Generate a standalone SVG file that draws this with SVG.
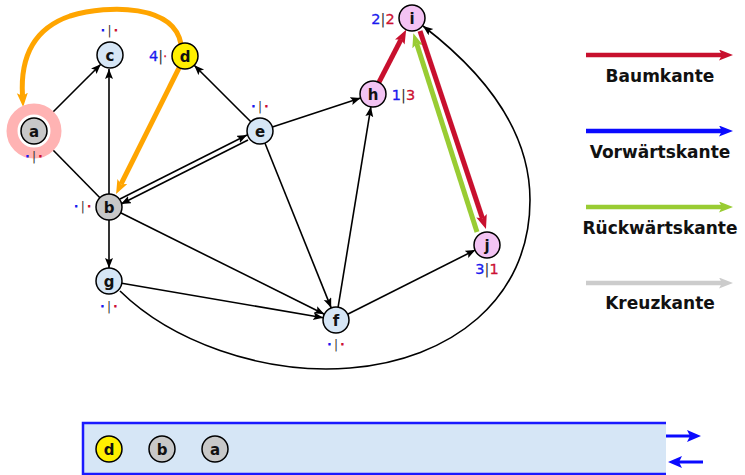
<svg xmlns="http://www.w3.org/2000/svg" width="745" height="475" viewBox="0 0 745 475">
<style>
.n{stroke:#000;stroke-width:1.5}
.lb{fill:#c8c8c8}.lc{fill:#d6e6f6}.ly{fill:#fff000}.lp{fill:#f3c3f3}
.t{font-family:"DejaVu Sans",sans-serif;font-weight:bold;font-size:15px;text-anchor:middle;fill:#111}
.e{fill:none;stroke:#000;stroke-width:1.6}
.s{font-family:"DejaVu Sans",sans-serif;font-size:12px;text-anchor:middle;letter-spacing:2.5px;fill:#333}
.num{font-family:"DejaVu Sans",sans-serif;font-size:14.5px;text-anchor:middle;fill:#333;stroke-width:0.3}
.bl{fill:#1a1aee;stroke:#1a1aee}.rd{fill:#cc1133;stroke:#cc1133}
.leg{font-family:"DejaVu Sans",sans-serif;font-weight:bold;font-size:17px;text-anchor:middle;fill:#111}
</style>
<defs>
<marker id="ab" markerUnits="userSpaceOnUse" markerWidth="12" markerHeight="10" refX="10" refY="4" orient="auto"><path d="M0,0 L10,4 L0,8 L2,4 z" fill="#000"/></marker>
<marker id="ar" markerUnits="userSpaceOnUse" markerWidth="16" markerHeight="13" refX="3" refY="5.5" orient="auto"><path d="M0,0 L14,5.5 L0,11 L3,5.5 z" fill="#c8102e"/></marker>
<marker id="ag" markerUnits="userSpaceOnUse" markerWidth="16" markerHeight="13" refX="3" refY="5.5" orient="auto"><path d="M0,0 L14,5.5 L0,11 L3,5.5 z" fill="#99cc33"/></marker>
<marker id="ao" markerUnits="userSpaceOnUse" markerWidth="16" markerHeight="13" refX="3" refY="5.5" orient="auto"><path d="M0,0 L14,5.5 L0,11 L3,5.5 z" fill="#ffa500"/></marker>
<marker id="abl" markerUnits="userSpaceOnUse" markerWidth="16" markerHeight="13" refX="3" refY="5.5" orient="auto"><path d="M0,0 L14,5.5 L0,11 L3,5.5 z" fill="#0a0aff"/></marker>
<marker id="agr" markerUnits="userSpaceOnUse" markerWidth="16" markerHeight="13" refX="3" refY="5.5" orient="auto"><path d="M0,0 L14,5.5 L0,11 L3,5.5 z" fill="#cccccc"/></marker>
<marker id="aq" markerUnits="userSpaceOnUse" markerWidth="16" markerHeight="13" refX="3" refY="6" orient="auto"><path d="M0,0 L14,6 L0,12 L3,6 z" fill="#0a0aff"/></marker>
</defs>

<g id="connectors">
<path class="e" d="M53,112 L100.8,64.2" marker-end="url(#ab)"/>
<path class="e" d="M99.9,197.7 L53,150"/>
<path class="e" d="M109,194 L109,69" marker-end="url(#ab)"/>
<path class="e" d="M250.8,121.8 L194.2,65.2" marker-end="url(#ab)"/>
<path class="e" d="M120,199 L247,135" marker-end="url(#ab)"/>
<path class="e" d="M248,140 L121,204" marker-end="url(#ab)"/>
<path class="e" d="M272.4,127 L360.6,98" marker-end="url(#ab)"/>
<path class="e" d="M264.9,143 L331.2,307.9" marker-end="url(#ab)"/>
<path class="e" d="M109,220 L109,268" marker-end="url(#ab)"/>
<path class="e" d="M120.6,212.8 L324.4,314.2" marker-end="url(#ab)"/>
<path class="e" d="M121.8,283.2 L323.2,317.8" marker-end="url(#ab)"/>
<path class="e" d="M338.1,307.2 L370.9,106.8" marker-end="url(#ab)"/>
<path class="e" d="M347.6,314.2 L475.4,249.9" marker-end="url(#ab)"/>
<path class="e" d="M120,291 C170,340 260,375 350,368 C450,360 530,300 530,200 C530,120 470,62 423,26" marker-end="url(#ab)"/>
<path fill="none" stroke="#ffa500" stroke-width="5" d="M181,44 C174,5 110,4 70,16 C35,28 20,55 22.5,96" marker-end="url(#ao)"/>
<path fill="none" stroke="#ffa500" stroke-width="5" d="M179.2,67.6 L121,184.2" marker-end="url(#ao)"/>
<path fill="none" stroke="#c8102e" stroke-width="5" d="M378.9,82.4 L401.1,39.4" marker-end="url(#ar)"/>
<path fill="none" stroke="#99cc33" stroke-width="5" d="M477,232 L416.7,43.8" marker-end="url(#ag)"/>
<path fill="none" stroke="#c8102e" stroke-width="5" d="M420,31 L482.5,218.6" marker-end="url(#ar)"/>
</g>

<g id="node-a">
<circle cx="34" cy="131" r="22" fill="none" stroke="#ffb3b3" stroke-width="11"/>
<circle class="n lb" cx="34" cy="131" r="13"/>
<text class="t" x="34" y="136.5">a</text>
<text class="s" x="35.2" y="160.5"><tspan class="bl">·</tspan>|<tspan class="rd">·</tspan></text>
</g>
<g id="node-b">
<circle class="n lb" cx="109" cy="207" r="13"/>
<text class="t" x="109" y="212.5">b</text>
<text class="s" x="83.9" y="210.5"><tspan class="bl">·</tspan>|<tspan class="rd">·</tspan></text>
</g>
<g id="node-c">
<circle class="n lc" cx="110" cy="55" r="13"/>
<text class="t" x="110" y="60.5">c</text>
<text class="s" x="110.7" y="34.5"><tspan class="bl">·</tspan>|<tspan class="rd">·</tspan></text>
</g>
<g id="node-d">
<circle class="n ly" cx="185" cy="56" r="13"/>
<text class="t" x="185" y="61.5">d</text>
<text class="num" x="158" y="61"><tspan class="bl">4</tspan>|<tspan class="rd" font-size="12">·</tspan></text>
</g>
<g id="node-e">
<circle class="n lc" cx="260" cy="131" r="13"/>
<text class="t" x="260" y="136.5">e</text>
<text class="s" x="261.2" y="111"><tspan class="bl">·</tspan>|<tspan class="rd">·</tspan></text>
</g>
<g id="node-f">
<circle class="n lc" cx="336" cy="320" r="13"/>
<text class="t" x="336" y="325.5">f</text>
<text class="s" x="337.2" y="349"><tspan class="bl">·</tspan>|<tspan class="rd">·</tspan></text>
</g>
<g id="node-g">
<circle class="n lc" cx="109" cy="281" r="13"/>
<text class="t" x="109" y="286.5">g</text>
<text class="s" x="110.2" y="311"><tspan class="bl">·</tspan>|<tspan class="rd">·</tspan></text>
</g>
<g id="node-h">
<circle class="n lp" cx="373" cy="94" r="13"/>
<text class="t" x="373" y="99.5">h</text>
<text class="num" x="403.5" y="100"><tspan class="bl">1</tspan>|<tspan class="rd">3</tspan></text>
</g>
<g id="node-i">
<circle class="n lp" cx="412" cy="18" r="13"/>
<text class="t" x="412" y="23.5">i</text>
<text class="num" x="383" y="23.5"><tspan class="bl">2</tspan>|<tspan class="rd">2</tspan></text>
</g>
<g id="node-j">
<circle class="n lp" cx="487" cy="245" r="13"/>
<text class="t" x="487" y="250.5">j</text>
<text class="num" x="487" y="274"><tspan class="bl">3</tspan>|<tspan class="rd">1</tspan></text>
</g>

<g id="legend">
<path fill="none" stroke="#c8102e" stroke-width="4.5" d="M586,55 L722,55" marker-end="url(#ar)"/>
<text class="leg" x="660" y="82">Baumkante</text>
<path fill="none" stroke="#0a0aff" stroke-width="4.5" d="M586,131 L722,131" marker-end="url(#abl)"/>
<text class="leg" x="660" y="158">Vorwärtskante</text>
<path fill="none" stroke="#99cc33" stroke-width="4.5" d="M586,207 L722,207" marker-end="url(#ag)"/>
<text class="leg" x="660" y="234">Rückwärtskante</text>
<path fill="none" stroke="#cccccc" stroke-width="4.5" d="M586,283 L722,283" marker-end="url(#agr)"/>
<text class="leg" x="660" y="309">Kreuzkante</text>
</g>

<g id="queue">
<rect x="83" y="423" width="583" height="52" fill="#d6e6f6"/>
<path d="M666,423 H83 V474 H666" fill="none" stroke="#1a1aff" stroke-width="2.5"/>
<path fill="none" stroke="#0a0aff" stroke-width="3" d="M666,436 L690,436" marker-end="url(#aq)"/>
<path fill="none" stroke="#0a0aff" stroke-width="3" d="M703,462 L679,462" marker-end="url(#aq)"/>
</g>
<g id="queue-d">
<circle class="n ly" cx="109" cy="449" r="13"/>
<text class="t" x="109" y="454.5">d</text>
</g>
<g id="queue-b">
<circle class="n lb" cx="162" cy="449" r="13"/>
<text class="t" x="162" y="454.5">b</text>
</g>
<g id="queue-a">
<circle class="n lb" cx="215" cy="449" r="13"/>
<text class="t" x="215" y="454.5">a</text>
</g>
</svg>
